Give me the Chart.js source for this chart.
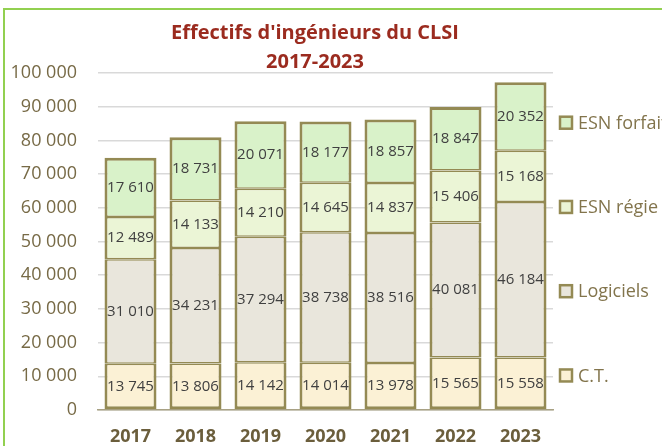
<!DOCTYPE html>
<html>
<head>
<meta charset="utf-8">
<title>Effectifs d'ingénieurs du CLSI</title>
<script src="https://cdn.jsdelivr.net/npm/chart.js@4/dist/chart.umd.min.js"></script>
<style>
html, body { margin: 0; padding: 0; background: #fff; overflow: hidden; }
#frame {
    position: absolute; left: 3px; top: 8px;
    width: 700px; height: 460px;
    border-left: 2px solid #92d050; border-top: 2px solid #92d050;
}
</style>
</head>
<body>
<div id="frame"><canvas id="chart" width="700" height="460"></canvas></div>
<script>
const YEARS = ["2017", "2018", "2019", "2020", "2021", "2022", "2023"];
const CT = [13745, 13806, 14142, 14014, 13978, 15565, 15558];
const LOGICIELS = [31010, 34231, 37294, 38738, 38516, 40081, 46184];
const ESN_REGIE = [12489, 14133, 14210, 14645, 14837, 15406, 15168];
const ESN_FORFAIT = [17610, 18731, 20071, 18177, 18857, 18847, 20352];
const Y_MAX = 100000;
const Y_STEP = 10000;

const BORDER = "#948a54";
const TICK_COLOR = "#776a46";
const FONT = '"Open Sans", sans-serif';

// 13745 -> "13 745"
function fmt(v) {
    return String(v).replace(/\B(?=(\d{3})+(?!\d))/g, " ");
}

// values written in the middle of each segment
const valueLabels = {
    id: "valueLabels",
    afterDatasetsDraw(chart) {
        const ctx = chart.ctx;
        ctx.save();
        ctx.font = "15px " + FONT;
        ctx.fillStyle = "#404040";
        ctx.textAlign = "center";
        ctx.textBaseline = "middle";
        chart.data.datasets.forEach((ds, i) => {
            chart.getDatasetMeta(i).data.forEach((bar, j) => {
                const p = bar.getCenterPoint();
                ctx.fillText(fmt(ds.data[j]), p.x, p.y);
            });
        });
        ctx.restore();
    }
};

// legend spread down the right side, top series first
const sideLegend = {
    id: "sideLegend",
    afterLayout(chart) {
        // title centred a bit right of the canvas middle, like the original
        chart.titleBlock.left = 72;
    },
    afterDraw(chart) {
        const ctx = chart.ctx;
        const area = chart.chartArea;
        const sets = chart.data.datasets.slice().reverse();
        const step = area.height / sets.length;
        ctx.save();
        ctx.font = "18px " + FONT;
        ctx.textBaseline = "middle";
        sets.forEach((ds, k) => {
            const y = area.top + step * (k + 0.59);
            const x = area.right + 7;
            ctx.fillStyle = ds.backgroundColor;
            ctx.fillRect(x, y - 6, 12, 12);
            ctx.lineWidth = 2.5;
            ctx.strokeStyle = BORDER;
            ctx.strokeRect(x, y - 6, 12, 12);
            ctx.fillStyle = "#82744c";
            ctx.fillText(ds.label, x + 18, y + 1);
        });
        ctx.restore();
    }
};

function ds(label, data, color, bottom, top) {
    return {
        label: label,
        data: data,
        backgroundColor: color,
        borderColor: BORDER,
        borderWidth: { left: 3, right: 3, top: top, bottom: bottom },
        borderSkipped: false,
        barPercentage: 0.8,
        categoryPercentage: 1
    };
}

new Chart(document.getElementById("chart").getContext("2d"), {
    type: "bar",
    data: {
        labels: YEARS,
        datasets: [
            ds("C.T.", CT, "#fbf1d5", 3, 1.5),
            ds("Logiciels", LOGICIELS, "#e9e6dc", 1.5, 1.5),
            ds("ESN régie", ESN_REGIE, "#ebf5d6", 1.5, 1.5),
            ds("ESN forfait", ESN_FORFAIT, "#d9f2c9", 1.5, 3)
        ]
    },
    options: {
        responsive: false,
        animation: false,
        layout: { padding: { left: 0, right: 152, top: 5, bottom: 0 } },
        plugins: {
            legend: { display: false },
            tooltip: { enabled: false },
            title: {
                display: true,
                text: ["Effectifs d'ingénieurs du CLSI", "2017-2023"],
                color: "#9b2b1f",
                font: { family: FONT, size: 20, weight: "bold", lineHeight: 1.45 },
                padding: { top: 4, bottom: -4 }
            }
        },
        scales: {
            x: {
                stacked: true,
                grid: { display: false, drawTicks: false },
                border: { display: true, color: "#a8a184", width: 1.5 },
                ticks: {
                    padding: 16,
                    color: "#6b5e3c",
                    font: { family: FONT, size: 18, weight: "bold" }
                },
                afterFit(scale) { scale.height = 60; }
            },
            y: {
                stacked: true,
                min: 0,
                max: Y_MAX,
                grid: { color: "#d9d9d9", lineWidth: 1.5, drawTicks: false },
                border: { display: false },
                ticks: {
                    stepSize: Y_STEP,
                    padding: 21,
                    color: TICK_COLOR,
                    font: { family: FONT, size: 18 },
                    callback: (v) => fmt(v)
                },
                afterFit(scale) { scale.width = 93; }
            }
        }
    },
    plugins: [valueLabels, sideLegend]
});
</script>
</body>
</html>
